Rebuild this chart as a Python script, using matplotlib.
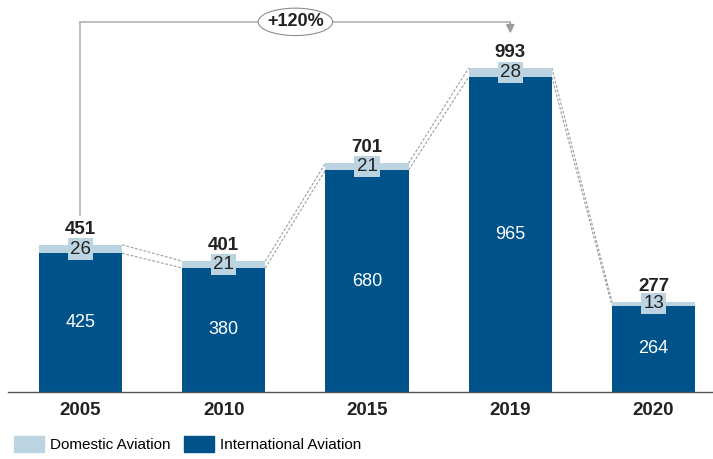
import matplotlib
matplotlib.use("Agg")
from matplotlib import pyplot as plt
from matplotlib.patches import Patch, Ellipse

years = ["2005", "2010", "2015", "2019", "2020"]
international = [425, 380, 680, 965, 264]
domestic = [26, 21, 21, 28, 13]
totals = [451, 401, 701, 993, 277]
growth_label = "+120%"

dark_blue = "#00528a"
light_blue = "#bcd4e1"
grey = "#9a9ea3"

plt.rcParams['font.family'] = ['Liberation Sans', 'DejaVu Sans']

fig = plt.figure(figsize=(7.13, 4.59), dpi=100)
ax = fig.add_axes([8 / 713, 67 / 459, 1 - 8 / 713, 392 / 459])

x = list(range(len(years)))
width = 0.58
ax.bar(x, international, width, color=dark_blue, zorder=2)
ax.bar(x, domestic, width, bottom=international, color=light_blue, zorder=2)

# dashed connectors between neighbouring bars
for i in range(len(years) - 1):
    x0 = x[i] + width / 2
    x1 = x[i + 1] - width / 2
    ax.plot([x0, x1], [totals[i], totals[i + 1]], ls=(0, (2.5, 1.5)), lw=0.8, color=grey, zorder=1)
    ax.plot([x0, x1], [international[i], international[i + 1]], ls=(0, (2.5, 1.5)), lw=0.8, color=grey, zorder=1)

for i in range(len(years)):
    ax.text(x[i], international[i] / 2, str(international[i]), ha='center', va='center',
            color='white', fontsize=13, zorder=3)
    ax.text(x[i], international[i] + domestic[i] / 2, str(domestic[i]), ha='center', va='center',
            color='#222222', fontsize=13.5, zorder=3,
            bbox=dict(boxstyle='square,pad=0.12', fc=light_blue, ec='none'))
    ax.annotate(str(totals[i]), (x[i], totals[i]), xytext=(0, 5), textcoords='offset points',
                ha='center', va='bottom', fontsize=13.5, fontweight='bold', color='#222222')

# growth bracket from 2005 to 2019
top = 1134
ax.plot([x[0], x[0]], [542, top], color='#b5b9bd', lw=1.3, zorder=1)
ax.plot([x[0], x[3]], [top, top], color='#b5b9bd', lw=1.3, zorder=1)
ax.annotate('', xy=(x[3], 1090), xytext=(x[3], top + 5),
            arrowprops=dict(arrowstyle='-|>', color=grey, lw=1.3, mutation_scale=12))
ax.add_patch(Ellipse((1.5, top), 0.52, 84, fc='white', ec='#8a8e93', lw=0.8, zorder=3))
ax.text(1.5, top, growth_label, ha='center', va='center', fontsize=13, fontweight='bold',
        color='#222222', zorder=4)

ax.set_xlim(-0.506, 4.415)
ax.set_ylim(0, 1201)
ax.set_xticks(x)
ax.set_xticklabels(years, fontsize=13.5, fontweight='bold', color='#222222')
ax.tick_params(axis='x', length=0, pad=7)
ax.set_yticks([])
for side in ['top', 'right', 'left']:
    ax.spines[side].set_visible(False)
ax.spines['bottom'].set_color('#555555')
ax.spines['bottom'].set_linewidth(1.0)

handles = [Patch(color=light_blue, label='Domestic Aviation'),
           Patch(color=dark_blue, label='International Aviation')]
fig.legend(handles=handles, loc='lower left', bbox_to_anchor=(0.0, -0.015), ncol=2, frameon=False,
           fontsize=11, handlelength=2.0, handleheight=1.2, handletextpad=0.35, columnspacing=0.9)

fig.savefig('out.png', dpi=100)
